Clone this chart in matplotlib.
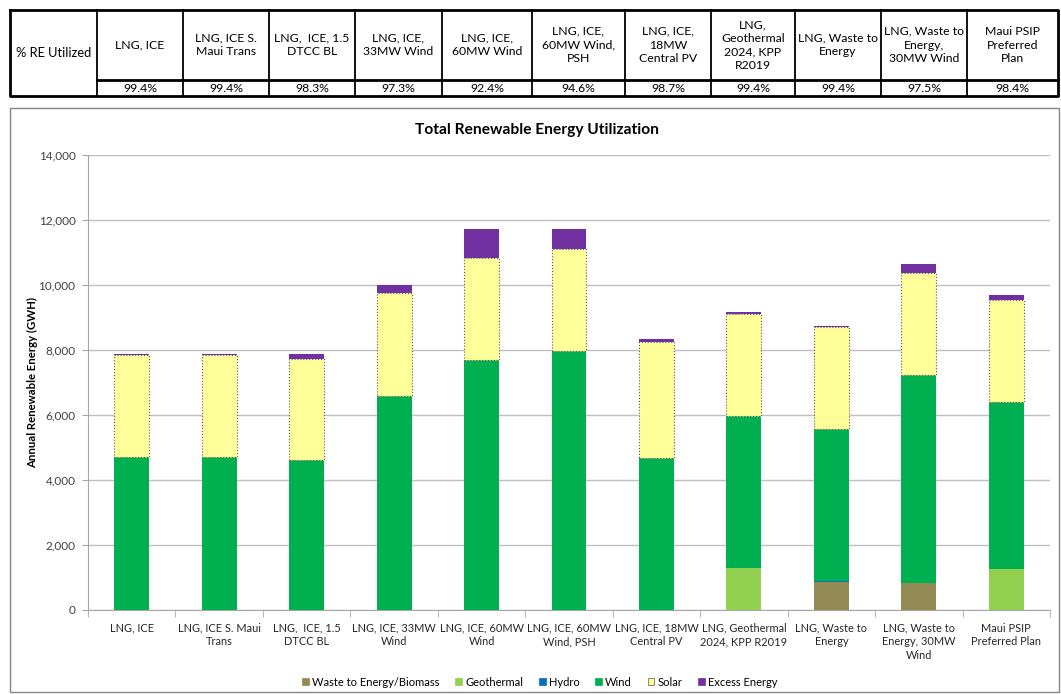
import matplotlib
matplotlib.use("Agg")
import matplotlib.pyplot as plt
from matplotlib.patches import Patch, Rectangle
from matplotlib.ticker import FuncFormatter, FixedLocator
import numpy as np

plt.rcParams["font.family"] = ["Lato", "DejaVu Sans"]

# --- données ---
scenarios = [
    "LNG, ICE", "LNG, ICE S. Maui\nTrans", "LNG,  ICE, 1.5\nDTCC BL",
    "LNG, ICE, 33MW\nWind", "LNG, ICE, 60MW\nWind", "LNG, ICE, 60MW\nWind, PSH",
    "LNG, ICE, 18MW\nCentral PV", "LNG, Geothermal\n2024, KPP R2019",
    "LNG, Waste to\nEnergy", "LNG, Waste to\nEnergy, 30MW\nWind",
    "Maui PSIP\nPreferred Plan",
]
table_headers = [
    "LNG, ICE", "LNG, ICE S.\nMaui Trans", "LNG,  ICE, 1.5\nDTCC BL",
    "LNG, ICE,\n33MW Wind", "LNG, ICE,\n60MW Wind", "LNG, ICE,\n60MW Wind,\nPSH",
    "LNG, ICE,\n18MW\nCentral PV", "LNG,\nGeothermal\n2024, KPP\nR2019",
    "LNG, Waste to\nEnergy", "LNG, Waste to\nEnergy,\n30MW Wind",
    "Maui PSIP\nPreferred\nPlan",
]
re_utilized = ["99.4%", "99.4%", "98.3%", "97.3%", "92.4%", "94.6%",
               "98.7%", "99.4%", "99.4%", "97.5%", "98.4%"]

waste = [0, 0, 0, 0, 0, 0, 0, 0, 870, 820, 0]
geothermal = [0, 0, 0, 0, 0, 0, 0, 1280, 0, 0, 1260]
hydro = [0, 0, 0, 0, 0, 0, 0, 0, 15, 15, 0]
wind = [4700, 4700, 4610, 6580, 7690, 7970, 4680, 4700, 4685, 6395, 5130]
solar = [3135, 3135, 3120, 3160, 3150, 3130, 3560, 3140, 3140, 3140, 3160]
excess = [42, 42, 147, 260, 890, 630, 100, 60, 30, 270, 150]

series = [
    ("Waste to Energy/Biomass", waste, "#948A54"),
    ("Geothermal", geothermal, "#92D050"),
    ("Hydro", hydro, "#0070C0"),
    ("Wind", wind, "#00B050"),
    ("Solar", solar, "#FFFF99"),
    ("Excess Energy", excess, "#7030A0"),
]

W, H = 1061, 694
fig = plt.figure(figsize=(W / 100, H / 100), dpi=100)
fig.patch.set_facecolor("white")

# --- tableau du haut + cadre du graphique (coordonnées pixels) ---
ov = fig.add_axes([0, 0, 1, 1])
ov.set_xlim(0, W); ov.set_ylim(H, 0); ov.axis("off")
ov.add_patch(Rectangle((10, 108), 1049, 584, fill=False, ec="#868686", lw=1))

col_x = [10, 97, 183, 269, 355, 442, 532, 625, 711, 795, 881, 967, 1058]
top, mid, bot = 10, 80, 96
ov.plot([col_x[0], col_x[-1], col_x[-1], col_x[0], col_x[0]],
        [top, top, bot, bot, top], color="k", lw=2, solid_capstyle="projecting")
ov.plot([col_x[1], col_x[-1]], [mid, mid], color="k", lw=2)
for xb in col_x[1:-1]:
    ov.plot([xb, xb], [top, bot], color="k", lw=1.3)
ov.text((col_x[0] + col_x[1]) / 2, (top + bot) / 2, "% RE Utilized",
        ha="center", va="center", fontsize=9.3)
for i, (hdr, val) in enumerate(zip(table_headers, re_utilized)):
    cx = (col_x[i + 1] + col_x[i + 2]) / 2
    ov.text(cx, (top + mid) / 2, hdr, ha="center", va="center", fontsize=8.8, linespacing=1.3)
    ov.text(cx, (mid + bot) / 2 + 0.5, val, ha="center", va="center", fontsize=8.8)

# --- graphique empilé ---
ax = fig.add_axes([88 / W, 1 - 610 / H, (1050 - 88) / W, 455 / H])
x = np.arange(len(scenarios))
bottom = np.zeros(len(scenarios))
for name, vals, color in series:
    vals = np.array(vals, dtype=float)
    if name == "Solar":
        ax.bar(x, vals, 0.4, bottom=bottom, color=color, edgecolor="#595959",
               linestyle=":", linewidth=0.8, zorder=3)
    else:
        ax.bar(x, vals, 0.4, bottom=bottom, color=color, linewidth=0, zorder=3)
    bottom += vals

ax.set_xlim(-0.5, len(scenarios) - 0.5)
ax.set_ylim(0, 14000)
ax.set_yticks(np.arange(0, 14001, 2000))
ax.yaxis.set_major_formatter(FuncFormatter(lambda v, p: f"{v:,.0f}"))
ax.grid(axis="y", color="#BFBFBF", lw=1, zorder=0)
ax.set_axisbelow(True)
for s in ("top", "right"):
    ax.spines[s].set_visible(False)
for s in ("left", "bottom"):
    ax.spines[s].set_color("#A6A6A6")
ax.tick_params(axis="y", length=4, color="#A6A6A6", labelsize=8.5, labelcolor="#404040", pad=5)
ax.set_xticks(x)
ax.set_xticklabels(scenarios, fontsize=7.9, color="#262626", linespacing=1.3)
ax.tick_params(axis="x", which="major", length=0, pad=9)
ax.xaxis.set_minor_locator(FixedLocator(np.arange(-0.5, len(scenarios), 1)))
ax.tick_params(axis="x", which="minor", length=5, color="#A6A6A6")

fig.text(537 / W, 1 - 130 / H, "Total Renewable Energy Utilization",
         ha="center", va="center", fontsize=11.2, fontweight="bold")
fig.text(33 / W, 1 - 382 / H, "Annual Renewable Energy (GWH)", rotation=90,
         ha="center", va="center", fontsize=8.2, fontweight="bold")

handles = [Patch(facecolor=c, edgecolor="#595959" if n == "Solar" else c, lw=0.5, label=n)
           for n, _, c in series]
fig.legend(handles=handles, loc="center", bbox_to_anchor=(540 / W, 1 - 682 / H),
           ncol=6, frameon=False, fontsize=8, handlelength=0.6, handleheight=0.6,
           columnspacing=1.4, handletextpad=0.3)

fig.savefig("out.png", dpi=100)
